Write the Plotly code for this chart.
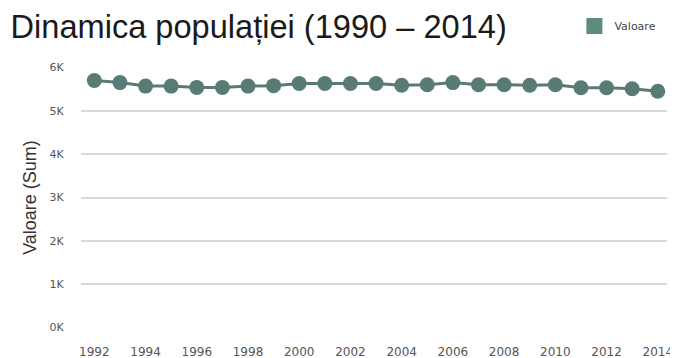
import plotly.graph_objects as go

years = list(range(1992, 2015))
values = [5700, 5650, 5570, 5570, 5540, 5540, 5570, 5580, 5630, 5630, 5630, 5630,
          5590, 5600, 5650, 5600, 5600, 5590, 5600, 5530, 5530, 5510, 5450]
x_ticks = list(range(1992, 2015, 2))
y_ticks = [0, 1000, 2000, 3000, 4000, 5000, 6000]
y_labels = ["0K", "1K", "2K", "3K", "4K", "5K", "6K"]

line_color = "#587c75"

fig = go.Figure()
fig.add_trace(go.Scatter(
    x=years, y=values, mode="lines+markers",
    line=dict(color=line_color, width=3),
    marker=dict(color=line_color, size=15),
    showlegend=False, cliponaxis=False,
))
fig.add_trace(go.Scatter(
    x=[None], y=[None], mode="markers", name="Valoare",
    marker=dict(color="#5f8a7e", symbol="square", size=16),
))

# page body adds an 8px offset, so the figure is sized 670x350
fig.update_layout(
    width=670, height=350,
    margin=dict(l=73, r=11, t=59, b=30),
    paper_bgcolor="white", plot_bgcolor="white",
    title=dict(text="Dinamica populației (1990 – 2014)",
               font=dict(family="Liberation Sans, Arial", size=32.6, color="#1a1a1a"),
               xref="container", x=2.5/670, xanchor="left",
               yref="container", y=1-18.5/350, yanchor="middle",
               pad=dict(l=0, r=0, t=0, b=0)),
    legend=dict(xref="paper", yref="container",
                x=0.842, y=1-18/350, xanchor="left", yanchor="middle",
                font=dict(family="DejaVu Sans", size=11, color="#444"),
                bgcolor="rgba(0,0,0,0)"),
    xaxis=dict(range=[1991.48, 2014.36], tickvals=x_ticks, automargin=False,
               showgrid=False, zeroline=False, showline=False,
               ticks="outside", ticklen=13, tickcolor="rgba(0,0,0,0)",
               tickfont=dict(family="DejaVu Sans", size=12, color="#555")),
    yaxis=dict(range=[-10, 6010], tickvals=y_ticks, ticktext=y_labels, automargin=False,
               showgrid=True, gridcolor="#d9d9d9", gridwidth=2,
               zeroline=False, showline=False,
               ticks="outside", ticklen=14, tickcolor="rgba(0,0,0,0)",
               tickfont=dict(family="DejaVu Sans", size=11, color="#555"),
               title=dict(text="Valoare (Sum)", standoff=8,
                          font=dict(family="Liberation Sans, Arial", size=18, color="#333"))),
)

fig.write_html("out.html")
